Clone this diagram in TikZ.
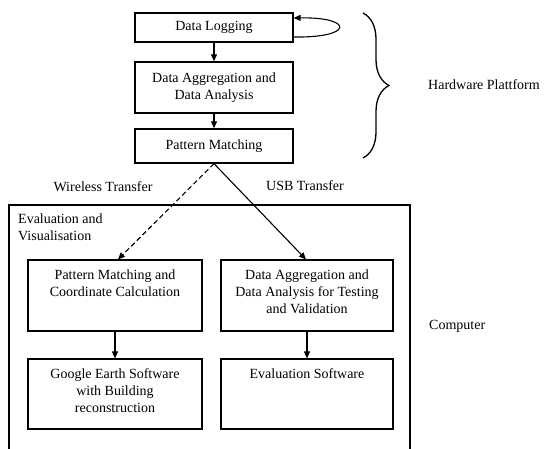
\documentclass[tikz,border=0pt]{standalone}
\usepackage{fontspec}
\setmainfont{Liberation Serif}
\usetikzlibrary{arrows.meta,decorations.pathreplacing}
\tikzset{
  box/.style={draw, line width=1.3pt, inner sep=0pt, minimum width=#1},
  box/.default=158pt,
  lbl/.style={inner sep=0pt, align=center, font=\fontsize{14}{17}\selectfont},
  arr/.style={line width=1.1pt, -{Triangle[length=7pt,width=6pt]}},
}
\begin{document}
\begin{tikzpicture}[x=1pt,y=-1pt]
\useasboundingbox (0,0) rectangle (552,449);
% hardware boxes
\node[box, minimum height=29pt, lbl] (dl) at (214,27.5) {Data Logging};
\node[box, minimum height=51pt, lbl] (da) at (214,87.5) {Data Aggregation and\\Data Analysis};
\node[box, minimum height=34pt, lbl] (pm) at (214,146) {Pattern Matching};
\draw[arr] (dl) -- (da);
\draw[arr] (da) -- (pm);
\coordinate (l1) at ([yshift=-9.5pt]dl.east);
\coordinate (l2) at ([yshift=9.5pt]dl.east);
\draw[arr] (l1) .. controls (354,38) and (354,17) .. (l2);
% brace
\coordinate (b1) at (363,13);
\coordinate (b2) at (363,158);
\draw[line width=1.3pt, decorate, decoration={brace, amplitude=26pt}] (b1) -- (b2);
\node[lbl, anchor=west] (hw) at (428,85) {Hardware Plattform};
% transfer labels
\node[lbl] (wt) at (103,187) {Wireless Transfer};
\node[lbl] (usb) at (305,186) {USB Transfer};
% computer box
\draw[line width=1.3pt] (9,452) -- (9,205) -- (410,205) -- (410,452);
\node[lbl, anchor=north west, align=left] (ev) at (18,214) {Evaluation and\\Visualisation};
\node[lbl, anchor=west] (comp) at (429,326) {Computer};
% inner boxes
\node[box=174pt, line width=1.1pt, minimum height=71pt] (pmc) at (115,295.5) {};
\node[box=172pt, line width=1.1pt, minimum height=71pt] (dad) at (307,295.5) {};
\node[box=174pt, line width=1.1pt, minimum height=70pt] (ge) at (115,394) {};
\node[box=172pt, line width=1.1pt, minimum height=70pt] (es) at (307,394) {};
\node[lbl, anchor=north] (tpmc) at ([yshift=-10.5pt]pmc.north) {Pattern Matching and\\Coordinate Calculation};
\node[lbl, anchor=north] (tdad) at ([yshift=-10.5pt]dad.north) {Data Aggregation and\\Data Analysis for Testing\\and Validation};
\node[lbl, anchor=north] (tge) at ([yshift=-9.5pt]ge.north) {Google Earth Software\\with Building\\reconstruction};
\node[lbl, anchor=north] (tes) at ([yshift=-9.5pt]es.north) {Evaluation Software};
% connectors
\draw[arr, dash pattern=on 5pt off 3pt] (pm.south) -- ([xshift=3pt]pmc.north);
\draw[arr] (pm.south) -- ([xshift=-1pt]dad.north);
\draw[arr] (pmc) -- (ge);
\draw[arr] (dad) -- (es);
\end{tikzpicture}
\end{document}
